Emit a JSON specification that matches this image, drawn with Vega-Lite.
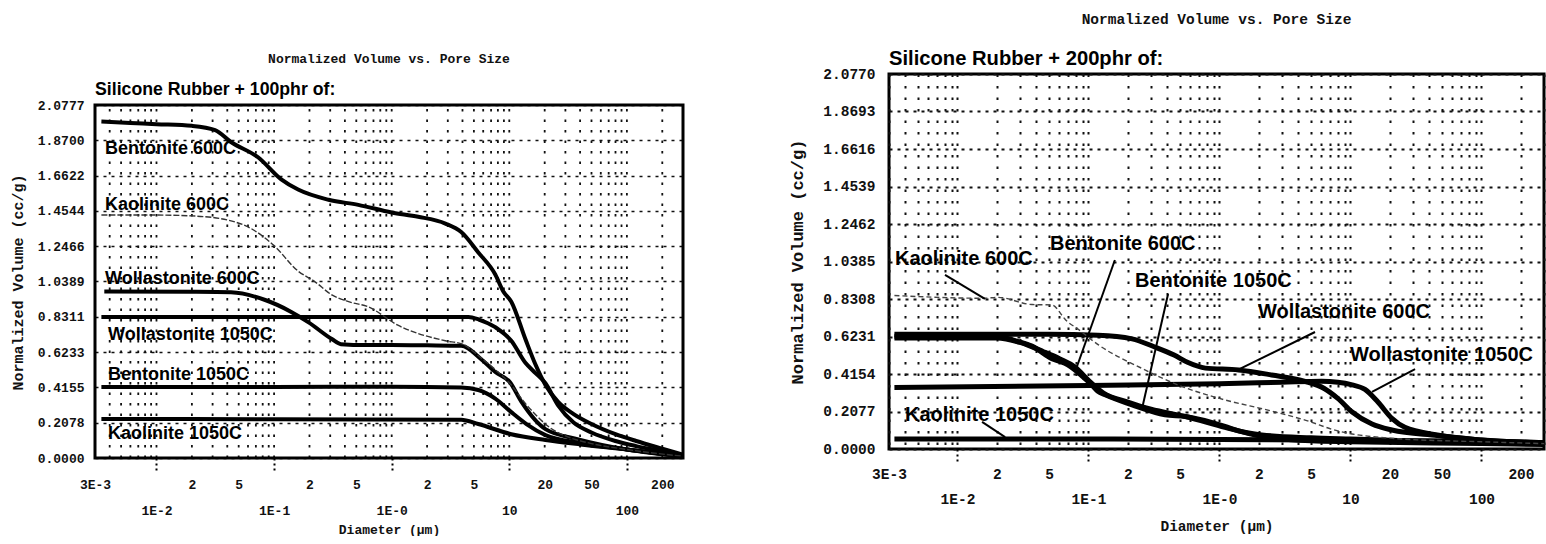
{
  "$schema": "https://vega.github.io/schema/vega-lite/v6.json",
  "background": "white",
  "padding": {"top": 10, "left": 10, "right": 0, "bottom": 0},
  "spacing": 96,
  "datasets": {
    "leftCurves": [
      {"series": "Bentonite 600C", "d": 0.0034, "v": 1.98}, {"series": "Bentonite 600C", "d": 0.006, "v": 1.972}, {"series": "Bentonite 600C", "d": 0.01, "v": 1.965}, {"series": "Bentonite 600C", "d": 0.02, "v": 1.955}, {"series": "Bentonite 600C", "d": 0.0315, "v": 1.93}, {"series": "Bentonite 600C", "d": 0.043, "v": 1.86}, {"series": "Bentonite 600C", "d": 0.073, "v": 1.77}, {"series": "Bentonite 600C", "d": 0.115, "v": 1.64}, {"series": "Bentonite 600C", "d": 0.16, "v": 1.58}, {"series": "Bentonite 600C", "d": 0.29, "v": 1.52}, {"series": "Bentonite 600C", "d": 0.52, "v": 1.49}, {"series": "Bentonite 600C", "d": 1.0, "v": 1.445}, {"series": "Bentonite 600C", "d": 1.68, "v": 1.42}, {"series": "Bentonite 600C", "d": 2.86, "v": 1.38}, {"series": "Bentonite 600C", "d": 3.9, "v": 1.33}, {"series": "Bentonite 600C", "d": 5.45, "v": 1.21}, {"series": "Bentonite 600C", "d": 7.6, "v": 1.08}, {"series": "Bentonite 600C", "d": 8.9, "v": 0.98}, {"series": "Bentonite 600C", "d": 10.4, "v": 0.92}, {"series": "Bentonite 600C", "d": 13.7, "v": 0.7}, {"series": "Bentonite 600C", "d": 16.7, "v": 0.55}, {"series": "Bentonite 600C", "d": 20.3, "v": 0.43}, {"series": "Bentonite 600C", "d": 26, "v": 0.33}, {"series": "Bentonite 600C", "d": 35, "v": 0.26}, {"series": "Bentonite 600C", "d": 50, "v": 0.2}, {"series": "Bentonite 600C", "d": 80, "v": 0.14}, {"series": "Bentonite 600C", "d": 120, "v": 0.1}, {"series": "Bentonite 600C", "d": 200, "v": 0.055}, {"series": "Bentonite 600C", "d": 300, "v": 0.02},
      {"series": "Kaolinite 600C", "d": 0.0034, "v": 1.43}, {"series": "Kaolinite 600C", "d": 0.01, "v": 1.43}, {"series": "Kaolinite 600C", "d": 0.02, "v": 1.425}, {"series": "Kaolinite 600C", "d": 0.0407, "v": 1.4}, {"series": "Kaolinite 600C", "d": 0.064, "v": 1.35}, {"series": "Kaolinite 600C", "d": 0.1, "v": 1.25}, {"series": "Kaolinite 600C", "d": 0.16, "v": 1.1}, {"series": "Kaolinite 600C", "d": 0.22, "v": 1.04}, {"series": "Kaolinite 600C", "d": 0.31, "v": 0.96}, {"series": "Kaolinite 600C", "d": 0.43, "v": 0.92}, {"series": "Kaolinite 600C", "d": 0.63, "v": 0.89}, {"series": "Kaolinite 600C", "d": 1.14, "v": 0.78}, {"series": "Kaolinite 600C", "d": 2.86, "v": 0.69}, {"series": "Kaolinite 600C", "d": 4.0, "v": 0.67}, {"series": "Kaolinite 600C", "d": 5.5, "v": 0.6}, {"series": "Kaolinite 600C", "d": 7.6, "v": 0.52}, {"series": "Kaolinite 600C", "d": 10.4, "v": 0.43}, {"series": "Kaolinite 600C", "d": 13, "v": 0.34}, {"series": "Kaolinite 600C", "d": 17, "v": 0.25}, {"series": "Kaolinite 600C", "d": 22, "v": 0.18}, {"series": "Kaolinite 600C", "d": 30, "v": 0.13}, {"series": "Kaolinite 600C", "d": 50, "v": 0.085}, {"series": "Kaolinite 600C", "d": 100, "v": 0.05}, {"series": "Kaolinite 600C", "d": 300, "v": 0.01},
      {"series": "Wollastonite 600C", "d": 0.0036, "v": 0.98}, {"series": "Wollastonite 600C", "d": 0.02, "v": 0.978}, {"series": "Wollastonite 600C", "d": 0.043, "v": 0.975}, {"series": "Wollastonite 600C", "d": 0.084, "v": 0.93}, {"series": "Wollastonite 600C", "d": 0.14, "v": 0.86}, {"series": "Wollastonite 600C", "d": 0.195, "v": 0.8}, {"series": "Wollastonite 600C", "d": 0.31, "v": 0.7}, {"series": "Wollastonite 600C", "d": 0.37, "v": 0.67}, {"series": "Wollastonite 600C", "d": 0.6, "v": 0.665}, {"series": "Wollastonite 600C", "d": 1, "v": 0.665}, {"series": "Wollastonite 600C", "d": 2, "v": 0.663}, {"series": "Wollastonite 600C", "d": 3.9, "v": 0.66}, {"series": "Wollastonite 600C", "d": 5.8, "v": 0.58}, {"series": "Wollastonite 600C", "d": 7.6, "v": 0.506}, {"series": "Wollastonite 600C", "d": 10.1, "v": 0.447}, {"series": "Wollastonite 600C", "d": 12.7, "v": 0.33}, {"series": "Wollastonite 600C", "d": 20.3, "v": 0.17}, {"series": "Wollastonite 600C", "d": 38.7, "v": 0.11}, {"series": "Wollastonite 600C", "d": 100, "v": 0.05}, {"series": "Wollastonite 600C", "d": 300, "v": 0.01},
      {"series": "Wollastonite 1050C", "d": 0.0034, "v": 0.83}, {"series": "Wollastonite 1050C", "d": 1, "v": 0.83}, {"series": "Wollastonite 1050C", "d": 4.5, "v": 0.83}, {"series": "Wollastonite 1050C", "d": 5.5, "v": 0.815}, {"series": "Wollastonite 1050C", "d": 7.6, "v": 0.77}, {"series": "Wollastonite 1050C", "d": 10.4, "v": 0.69}, {"series": "Wollastonite 1050C", "d": 13.7, "v": 0.56}, {"series": "Wollastonite 1050C", "d": 16.7, "v": 0.5}, {"series": "Wollastonite 1050C", "d": 20.3, "v": 0.44}, {"series": "Wollastonite 1050C", "d": 26, "v": 0.31}, {"series": "Wollastonite 1050C", "d": 35, "v": 0.21}, {"series": "Wollastonite 1050C", "d": 50, "v": 0.15}, {"series": "Wollastonite 1050C", "d": 80, "v": 0.1}, {"series": "Wollastonite 1050C", "d": 120, "v": 0.07}, {"series": "Wollastonite 1050C", "d": 200, "v": 0.04}, {"series": "Wollastonite 1050C", "d": 300, "v": 0.015},
      {"series": "Bentonite 1050C", "d": 0.0034, "v": 0.418}, {"series": "Bentonite 1050C", "d": 0.1, "v": 0.418}, {"series": "Bentonite 1050C", "d": 1, "v": 0.42}, {"series": "Bentonite 1050C", "d": 3.9, "v": 0.415}, {"series": "Bentonite 1050C", "d": 5.45, "v": 0.4}, {"series": "Bentonite 1050C", "d": 7.6, "v": 0.35}, {"series": "Bentonite 1050C", "d": 10.4, "v": 0.27}, {"series": "Bentonite 1050C", "d": 14, "v": 0.2}, {"series": "Bentonite 1050C", "d": 20.3, "v": 0.135}, {"series": "Bentonite 1050C", "d": 38.7, "v": 0.09}, {"series": "Bentonite 1050C", "d": 100, "v": 0.05}, {"series": "Bentonite 1050C", "d": 300, "v": 0.01},
      {"series": "Kaolinite 1050C", "d": 0.0034, "v": 0.23}, {"series": "Kaolinite 1050C", "d": 0.1, "v": 0.228}, {"series": "Kaolinite 1050C", "d": 3.9, "v": 0.225}, {"series": "Kaolinite 1050C", "d": 5.45, "v": 0.2}, {"series": "Kaolinite 1050C", "d": 10.4, "v": 0.14}, {"series": "Kaolinite 1050C", "d": 20.3, "v": 0.106}, {"series": "Kaolinite 1050C", "d": 40, "v": 0.08}, {"series": "Kaolinite 1050C", "d": 100, "v": 0.05}, {"series": "Kaolinite 1050C", "d": 300, "v": 0.01}
    ],
    "rightCurves": [
      {"series": "Bentonite 600C", "d": 0.0033, "v": 0.625}, {"series": "Bentonite 600C", "d": 0.01, "v": 0.627}, {"series": "Bentonite 600C", "d": 0.0204, "v": 0.622}, {"series": "Bentonite 600C", "d": 0.029, "v": 0.595}, {"series": "Bentonite 600C", "d": 0.037, "v": 0.57}, {"series": "Bentonite 600C", "d": 0.0526, "v": 0.5}, {"series": "Bentonite 600C", "d": 0.066, "v": 0.475}, {"series": "Bentonite 600C", "d": 0.083, "v": 0.425}, {"series": "Bentonite 600C", "d": 0.094, "v": 0.39}, {"series": "Bentonite 600C", "d": 0.106, "v": 0.355}, {"series": "Bentonite 600C", "d": 0.118, "v": 0.32}, {"series": "Bentonite 600C", "d": 0.134, "v": 0.3}, {"series": "Bentonite 600C", "d": 0.215, "v": 0.245}, {"series": "Bentonite 600C", "d": 0.384, "v": 0.19}, {"series": "Bentonite 600C", "d": 0.55, "v": 0.18}, {"series": "Bentonite 600C", "d": 1.1, "v": 0.125}, {"series": "Bentonite 600C", "d": 1.4, "v": 0.1}, {"series": "Bentonite 600C", "d": 2.1, "v": 0.078}, {"series": "Bentonite 600C", "d": 5, "v": 0.062}, {"series": "Bentonite 600C", "d": 10, "v": 0.055}, {"series": "Bentonite 600C", "d": 30, "v": 0.045}, {"series": "Bentonite 600C", "d": 100, "v": 0.04}, {"series": "Bentonite 600C", "d": 300, "v": 0.03},
      {"series": "Bentonite 1050C", "d": 0.0033, "v": 0.615}, {"series": "Bentonite 1050C", "d": 0.02, "v": 0.615}, {"series": "Bentonite 1050C", "d": 0.03, "v": 0.59}, {"series": "Bentonite 1050C", "d": 0.045, "v": 0.54}, {"series": "Bentonite 1050C", "d": 0.06, "v": 0.5}, {"series": "Bentonite 1050C", "d": 0.08, "v": 0.45}, {"series": "Bentonite 1050C", "d": 0.1, "v": 0.38}, {"series": "Bentonite 1050C", "d": 0.13, "v": 0.31}, {"series": "Bentonite 1050C", "d": 0.2, "v": 0.26}, {"series": "Bentonite 1050C", "d": 0.3, "v": 0.22}, {"series": "Bentonite 1050C", "d": 0.55, "v": 0.18}, {"series": "Bentonite 1050C", "d": 1.1, "v": 0.12}, {"series": "Bentonite 1050C", "d": 2.1, "v": 0.07}, {"series": "Bentonite 1050C", "d": 5, "v": 0.045}, {"series": "Bentonite 1050C", "d": 10, "v": 0.04}, {"series": "Bentonite 1050C", "d": 100, "v": 0.03}, {"series": "Bentonite 1050C", "d": 300, "v": 0.025},
      {"series": "Wollastonite 600C", "d": 0.0033, "v": 0.635}, {"series": "Wollastonite 600C", "d": 0.05, "v": 0.635}, {"series": "Wollastonite 600C", "d": 0.118, "v": 0.63}, {"series": "Wollastonite 600C", "d": 0.215, "v": 0.61}, {"series": "Wollastonite 600C", "d": 0.32, "v": 0.565}, {"series": "Wollastonite 600C", "d": 0.45, "v": 0.52}, {"series": "Wollastonite 600C", "d": 0.57, "v": 0.48}, {"series": "Wollastonite 600C", "d": 0.78, "v": 0.448}, {"series": "Wollastonite 600C", "d": 1.4, "v": 0.438}, {"series": "Wollastonite 600C", "d": 2.5, "v": 0.41}, {"series": "Wollastonite 600C", "d": 4.5, "v": 0.375}, {"series": "Wollastonite 600C", "d": 6.3, "v": 0.335}, {"series": "Wollastonite 600C", "d": 8.0, "v": 0.28}, {"series": "Wollastonite 600C", "d": 10.3, "v": 0.205}, {"series": "Wollastonite 600C", "d": 14.6, "v": 0.138}, {"series": "Wollastonite 600C", "d": 20.7, "v": 0.105}, {"series": "Wollastonite 600C", "d": 46, "v": 0.075}, {"series": "Wollastonite 600C", "d": 100, "v": 0.05}, {"series": "Wollastonite 600C", "d": 300, "v": 0.035},
      {"series": "Wollastonite 1050C", "d": 0.0033, "v": 0.34}, {"series": "Wollastonite 1050C", "d": 0.1, "v": 0.352}, {"series": "Wollastonite 1050C", "d": 1, "v": 0.362}, {"series": "Wollastonite 1050C", "d": 3, "v": 0.37}, {"series": "Wollastonite 1050C", "d": 6, "v": 0.375}, {"series": "Wollastonite 1050C", "d": 8, "v": 0.37}, {"series": "Wollastonite 1050C", "d": 10.3, "v": 0.355}, {"series": "Wollastonite 1050C", "d": 12.9, "v": 0.33}, {"series": "Wollastonite 1050C", "d": 16.2, "v": 0.26}, {"series": "Wollastonite 1050C", "d": 20.7, "v": 0.17}, {"series": "Wollastonite 1050C", "d": 26, "v": 0.12}, {"series": "Wollastonite 1050C", "d": 46, "v": 0.078}, {"series": "Wollastonite 1050C", "d": 100, "v": 0.05}, {"series": "Wollastonite 1050C", "d": 300, "v": 0.035},
      {"series": "Kaolinite 1050C", "d": 0.0033, "v": 0.055}, {"series": "Kaolinite 1050C", "d": 0.1, "v": 0.055}, {"series": "Kaolinite 1050C", "d": 1, "v": 0.052}, {"series": "Kaolinite 1050C", "d": 10, "v": 0.048}, {"series": "Kaolinite 1050C", "d": 100, "v": 0.042}, {"series": "Kaolinite 1050C", "d": 300, "v": 0.035},
      {"series": "Kaolinite 600C", "d": 0.0033, "v": 0.85}, {"series": "Kaolinite 600C", "d": 0.0162, "v": 0.835}, {"series": "Kaolinite 600C", "d": 0.0204, "v": 0.84}, {"series": "Kaolinite 600C", "d": 0.037, "v": 0.8}, {"series": "Kaolinite 600C", "d": 0.0526, "v": 0.798}, {"series": "Kaolinite 600C", "d": 0.0628, "v": 0.74}, {"series": "Kaolinite 600C", "d": 0.066, "v": 0.72}, {"series": "Kaolinite 600C", "d": 0.083, "v": 0.665}, {"series": "Kaolinite 600C", "d": 0.12, "v": 0.575}, {"series": "Kaolinite 600C", "d": 0.25, "v": 0.45}, {"series": "Kaolinite 600C", "d": 0.5, "v": 0.35}, {"series": "Kaolinite 600C", "d": 1, "v": 0.28}, {"series": "Kaolinite 600C", "d": 2.5, "v": 0.21}, {"series": "Kaolinite 600C", "d": 4.5, "v": 0.16}, {"series": "Kaolinite 600C", "d": 8, "v": 0.1}, {"series": "Kaolinite 600C", "d": 20, "v": 0.06}, {"series": "Kaolinite 600C", "d": 100, "v": 0.04}, {"series": "Kaolinite 600C", "d": 300, "v": 0.03}
    ],
    "leftLabels": [
      {"label": "Bentonite 600C", "d": 0.00365, "v": 1.819},
      {"label": "Kaolinite 600C", "d": 0.00365, "v": 1.489},
      {"label": "Wollastonite 600C", "d": 0.00365, "v": 1.054},
      {"label": "Wollastonite 1050C", "d": 0.00387, "v": 0.724},
      {"label": "Bentonite 1050C", "d": 0.00387, "v": 0.489},
      {"label": "Kaolinite 1050C", "d": 0.00387, "v": 0.141}
    ],
    "rightLabels": [
      {"label": "Kaolinite 600C", "d": 0.00333, "v": 1.052},
      {"label": "Bentonite 600C", "d": 0.0508, "v": 1.135},
      {"label": "Bentonite 1050C", "d": 0.2265, "v": 0.931},
      {"label": "Wollastonite 600C", "d": 1.97, "v": 0.759},
      {"label": "Wollastonite 1050C", "d": 9.9, "v": 0.521},
      {"label": "Kaolinite 1050C", "d": 0.00397, "v": 0.188}
    ],
    "rightLeaders": [
      {"label": "Kaolinite 600C", "d": 0.00803, "v": 0.964, "d2": 0.0162, "v2": 0.831},
      {"label": "Bentonite 600C", "d": 0.159, "v": 1.047, "d2": 0.0789, "v2": 0.4265},
      {"label": "Bentonite 1050C", "d": 0.405, "v": 0.859, "d2": 0.256, "v2": 0.222},
      {"label": "Wollastonite 600C", "d": 5.36, "v": 0.648, "d2": 1.38, "v2": 0.438},
      {"label": "Wollastonite 1050C", "d": 31.1, "v": 0.443, "d2": 14.6, "v2": 0.316},
      {"label": "Kaolinite 1050C", "d": 0.0154, "v": 0.15, "d2": 0.0231, "v2": 0.066}
    ],
    "leftGrid": [
      {"d": 0.003, "v": 0, "v2": 2.0777}, {"d": 0.004, "v": 0, "v2": 2.0777}, {"d": 0.005, "v": 0, "v2": 2.0777}, {"d": 0.006, "v": 0, "v2": 2.0777}, {"d": 0.007, "v": 0, "v2": 2.0777}, {"d": 0.008, "v": 0, "v2": 2.0777}, {"d": 0.009, "v": 0, "v2": 2.0777},
      {"d": 0.01, "v": 0, "v2": 2.0777}, {"d": 0.02, "v": 0, "v2": 2.0777}, {"d": 0.03, "v": 0, "v2": 2.0777}, {"d": 0.04, "v": 0, "v2": 2.0777}, {"d": 0.05, "v": 0, "v2": 2.0777}, {"d": 0.06, "v": 0, "v2": 2.0777}, {"d": 0.07, "v": 0, "v2": 2.0777}, {"d": 0.08, "v": 0, "v2": 2.0777}, {"d": 0.09, "v": 0, "v2": 2.0777},
      {"d": 0.1, "v": 0, "v2": 2.0777}, {"d": 0.2, "v": 0, "v2": 2.0777}, {"d": 0.3, "v": 0, "v2": 2.0777}, {"d": 0.4, "v": 0, "v2": 2.0777}, {"d": 0.5, "v": 0, "v2": 2.0777}, {"d": 0.6, "v": 0, "v2": 2.0777}, {"d": 0.7, "v": 0, "v2": 2.0777}, {"d": 0.8, "v": 0, "v2": 2.0777}, {"d": 0.9, "v": 0, "v2": 2.0777},
      {"d": 1, "v": 0, "v2": 2.0777}, {"d": 2, "v": 0, "v2": 2.0777}, {"d": 3, "v": 0, "v2": 2.0777}, {"d": 4, "v": 0, "v2": 2.0777}, {"d": 5, "v": 0, "v2": 2.0777}, {"d": 6, "v": 0, "v2": 2.0777}, {"d": 7, "v": 0, "v2": 2.0777}, {"d": 8, "v": 0, "v2": 2.0777}, {"d": 9, "v": 0, "v2": 2.0777},
      {"d": 10, "v": 0, "v2": 2.0777}, {"d": 20, "v": 0, "v2": 2.0777}, {"d": 30, "v": 0, "v2": 2.0777}, {"d": 40, "v": 0, "v2": 2.0777}, {"d": 50, "v": 0, "v2": 2.0777}, {"d": 60, "v": 0, "v2": 2.0777}, {"d": 70, "v": 0, "v2": 2.0777}, {"d": 80, "v": 0, "v2": 2.0777}, {"d": 90, "v": 0, "v2": 2.0777},
      {"d": 100, "v": 0, "v2": 2.0777}, {"d": 200, "v": 0, "v2": 2.0777}, {"d": 300, "v": 0, "v2": 2.0777}
    ],
    "leftFrame": [{"d": 0.003, "d2": 300, "v": 0, "v2": 2.0777}],
    "leftHeading": [{"label": "Silicone Rubber + 100phr of:", "d": 0.003, "v": 2.166}],
    "rightHeading": [{"label": "Silicone Rubber + 200phr of:", "d": 0.003, "v": 2.16}]
  },
  "hconcat": [
    {
      "width": 588,
      "height": 384,
      "view": {"stroke": null},
      "title": {"text": "Normalized Volume vs. Pore Size", "fontSize": 13, "offset": 8, "font": "Liberation Mono", "fontWeight": "bold", "color": "#111"},
      "encoding": {
        "x": {
          "field": "d", "type": "quantitative",
          "scale": {"type": "log", "domain": [0.003, 300], "nice": false},
          "axis": {
            "values": [0.003,0.004,0.005,0.006,0.007,0.008,0.009,0.01,0.02,0.03,0.04,0.05,0.06,0.07,0.08,0.09,0.1,0.2,0.3,0.4,0.5,0.6,0.7,0.8,0.9,1,2,3,4,5,6,7,8,9,10,20,30,40,50,60,70,80,90,100,200,300],
            "labelExpr": "datum.value == 0.003 ? '3E-3' : datum.value == 0.01 ? ['', '1E-2'] : datum.value == 0.1 ? ['', '1E-1'] : datum.value == 1 ? ['', '1E-0'] : datum.value == 10 ? ['', '10'] : datum.value == 100 ? ['', '100'] : (datum.value == 0.02 || datum.value == 0.2 || datum.value == 2) ? '2' : (datum.value == 0.05 || datum.value == 0.5 || datum.value == 5) ? '5' : datum.value == 20 ? '20' : datum.value == 50 ? '50' : datum.value == 200 ? '200' : ''",
            "labelOverlap": false, "labelFlush": false,
            "labelFontSize": 13, "labelLineHeight": 26, "labelPadding": 8,
            "tickSize": 12, "tickWidth": 2, "tickDash": [2, 3], "tickColor": "black",
            "tickOpacity": {"condition": {"test": "datum.value == 0.01 || datum.value == 0.1 || datum.value == 1 || datum.value == 10 || datum.value == 100", "value": 1}, "value": 0},
            "grid": false,
            "title": "Diameter (µm)", "titleFontSize": 13, "titlePadding": 6
          }
        },
        "y": {
          "field": "v", "type": "quantitative",
          "scale": {"domain": [0, 2.26019], "nice": false, "zero": false},
          "axis": {
            "values": [0, 0.2078, 0.4155, 0.6233, 0.8311, 1.0389, 1.2466, 1.4544, 1.6622, 1.87, 2.0777],
            "format": ".4f", "ticks": false, "labelPadding": 11, "labelFontSize": 13,
            "grid": true, "gridDash": [3, 5], "gridColor": "#111", "gridWidth": 1.6,
            "title": "Normalized Volume (cc/g)", "titleFontSize": 15, "titlePadding": 12, "titleY": 208
          }
        }
      },
      "layer": [
        {"data": {"name": "leftGrid"}, "mark": {"type": "rule", "color": "#111", "strokeWidth": 1.8, "strokeDash": [2.5, 8]}, "encoding": {"y2": {"field": "v2"}}},
        {"data": {"name": "leftCurves"}, "transform": [{"filter": "datum.series != 'Kaolinite 600C'"}], "mark": {"type": "line", "color": "black", "strokeWidth": 4, "interpolate": "monotone"}, "encoding": {"detail": {"field": "series"}}},
        {"data": {"name": "leftCurves"}, "transform": [{"filter": "datum.series == 'Kaolinite 600C'"}], "mark": {"type": "line", "color": "#333", "strokeWidth": 1.4, "strokeDash": [6, 2], "interpolate": "monotone"}, "encoding": {"detail": {"field": "series"}}},
        {"data": {"name": "leftFrame"}, "mark": {"type": "rect", "filled": false, "stroke": "black", "strokeWidth": 3}, "encoding": {"x2": {"field": "d2"}, "y2": {"field": "v2"}}},
        {"data": {"name": "leftLabels"}, "mark": {"type": "text", "align": "left", "baseline": "middle", "font": "Liberation Sans", "fontSize": 18, "fontWeight": "bold", "color": "black"}, "encoding": {"text": {"field": "label"}}},
        {"data": {"name": "leftHeading"}, "mark": {"type": "text", "align": "left", "baseline": "middle", "font": "Liberation Sans", "fontSize": 17.7, "fontWeight": "bold", "color": "black"}, "encoding": {"text": {"field": "label"}}}
      ]
    },
    {
      "width": 655,
      "height": 375,
      "title": {"text": "Normalized Volume vs. Pore Size", "fontSize": 14.5, "offset": 22, "font": "Liberation Mono", "fontWeight": "bold", "color": "#111"},
      "encoding": {
        "x": {
          "field": "d", "type": "quantitative",
          "scale": {"type": "log", "domain": [0.003, 300], "nice": false},
          "axis": {
            "values": [0.003,0.004,0.005,0.006,0.007,0.008,0.009,0.01,0.02,0.03,0.04,0.05,0.06,0.07,0.08,0.09,0.1,0.2,0.3,0.4,0.5,0.6,0.7,0.8,0.9,1,2,3,4,5,6,7,8,9,10,20,30,40,50,60,70,80,90,100,200,300],
            "labelExpr": "datum.value == 0.003 ? '3E-3' : datum.value == 0.01 ? ['', '1E-2'] : datum.value == 0.1 ? ['', '1E-1'] : datum.value == 1 ? ['', '1E-0'] : datum.value == 10 ? ['', '10'] : datum.value == 100 ? ['', '100'] : (datum.value == 0.02 || datum.value == 0.2 || datum.value == 2) ? '2' : (datum.value == 0.05 || datum.value == 0.5 || datum.value == 5) ? '5' : datum.value == 20 ? '20' : datum.value == 50 ? '50' : datum.value == 200 ? '200' : ''",
            "labelOverlap": false, "labelFlush": false,
            "labelFontSize": 14.5, "labelLineHeight": 25, "labelPadding": 6,
            "tickSize": 12, "tickWidth": 2, "tickDash": [2, 3], "tickColor": "black",
            "tickOpacity": {"condition": {"test": "datum.value == 0.01 || datum.value == 0.1 || datum.value == 1 || datum.value == 10 || datum.value == 100", "value": 1}, "value": 0},
            "grid": true, "gridDash": [2.5, 9], "gridColor": "#111", "gridWidth": 2,
            "title": "Diameter (µm)", "titleFontSize": 14.5, "titlePadding": 14
          }
        },
        "y": {
          "field": "v", "type": "quantitative",
          "scale": {"domain": [0, 2.077], "nice": false, "zero": false},
          "axis": {
            "values": [0, 0.2077, 0.4154, 0.6231, 0.8308, 1.0385, 1.2462, 1.4539, 1.6616, 1.8693, 2.077],
            "format": ".4f", "ticks": false, "labelPadding": 14, "labelFontSize": 14.5,
            "grid": true, "gridDash": [3, 5], "gridColor": "#111", "gridWidth": 1.8,
            "title": "Normalized Volume (cc/g)", "titleFontSize": 17, "titlePadding": 16
          }
        }
      },
      "layer": [
        {"data": {"name": "rightCurves"}, "transform": [{"filter": "datum.series != 'Kaolinite 600C'"}], "mark": {"type": "line", "color": "black", "strokeWidth": 5, "interpolate": "monotone"}, "encoding": {"detail": {"field": "series"}}},
        {"data": {"name": "rightCurves"}, "transform": [{"filter": "datum.series == 'Kaolinite 600C'"}], "mark": {"type": "line", "color": "#444", "strokeWidth": 1.4, "strokeDash": [5, 3], "interpolate": "monotone"}, "encoding": {"detail": {"field": "series"}}},
        {"data": {"name": "rightLeaders"}, "mark": {"type": "rule", "color": "black", "strokeWidth": 2}, "encoding": {"x2": {"field": "d2"}, "y2": {"field": "v2"}}},
        {"data": {"name": "rightLabels"}, "mark": {"type": "text", "align": "left", "baseline": "middle", "font": "Liberation Sans", "fontSize": 20, "fontWeight": "bold", "color": "black"}, "encoding": {"text": {"field": "label"}}},
        {"data": {"name": "rightHeading"}, "mark": {"type": "text", "align": "left", "baseline": "middle", "font": "Liberation Sans", "fontSize": 20.2, "fontWeight": "bold", "color": "black"}, "encoding": {"text": {"field": "label"}}}
      ]
    }
  ],
  "config": {
    "view": {"stroke": "black", "strokeWidth": 3},
    "axis": {"domain": false, "labelFont": "Liberation Mono", "labelFontWeight": "bold", "titleFont": "Liberation Mono", "titleFontWeight": "bold", "labelColor": "#111", "titleColor": "#111"}
  }
}
